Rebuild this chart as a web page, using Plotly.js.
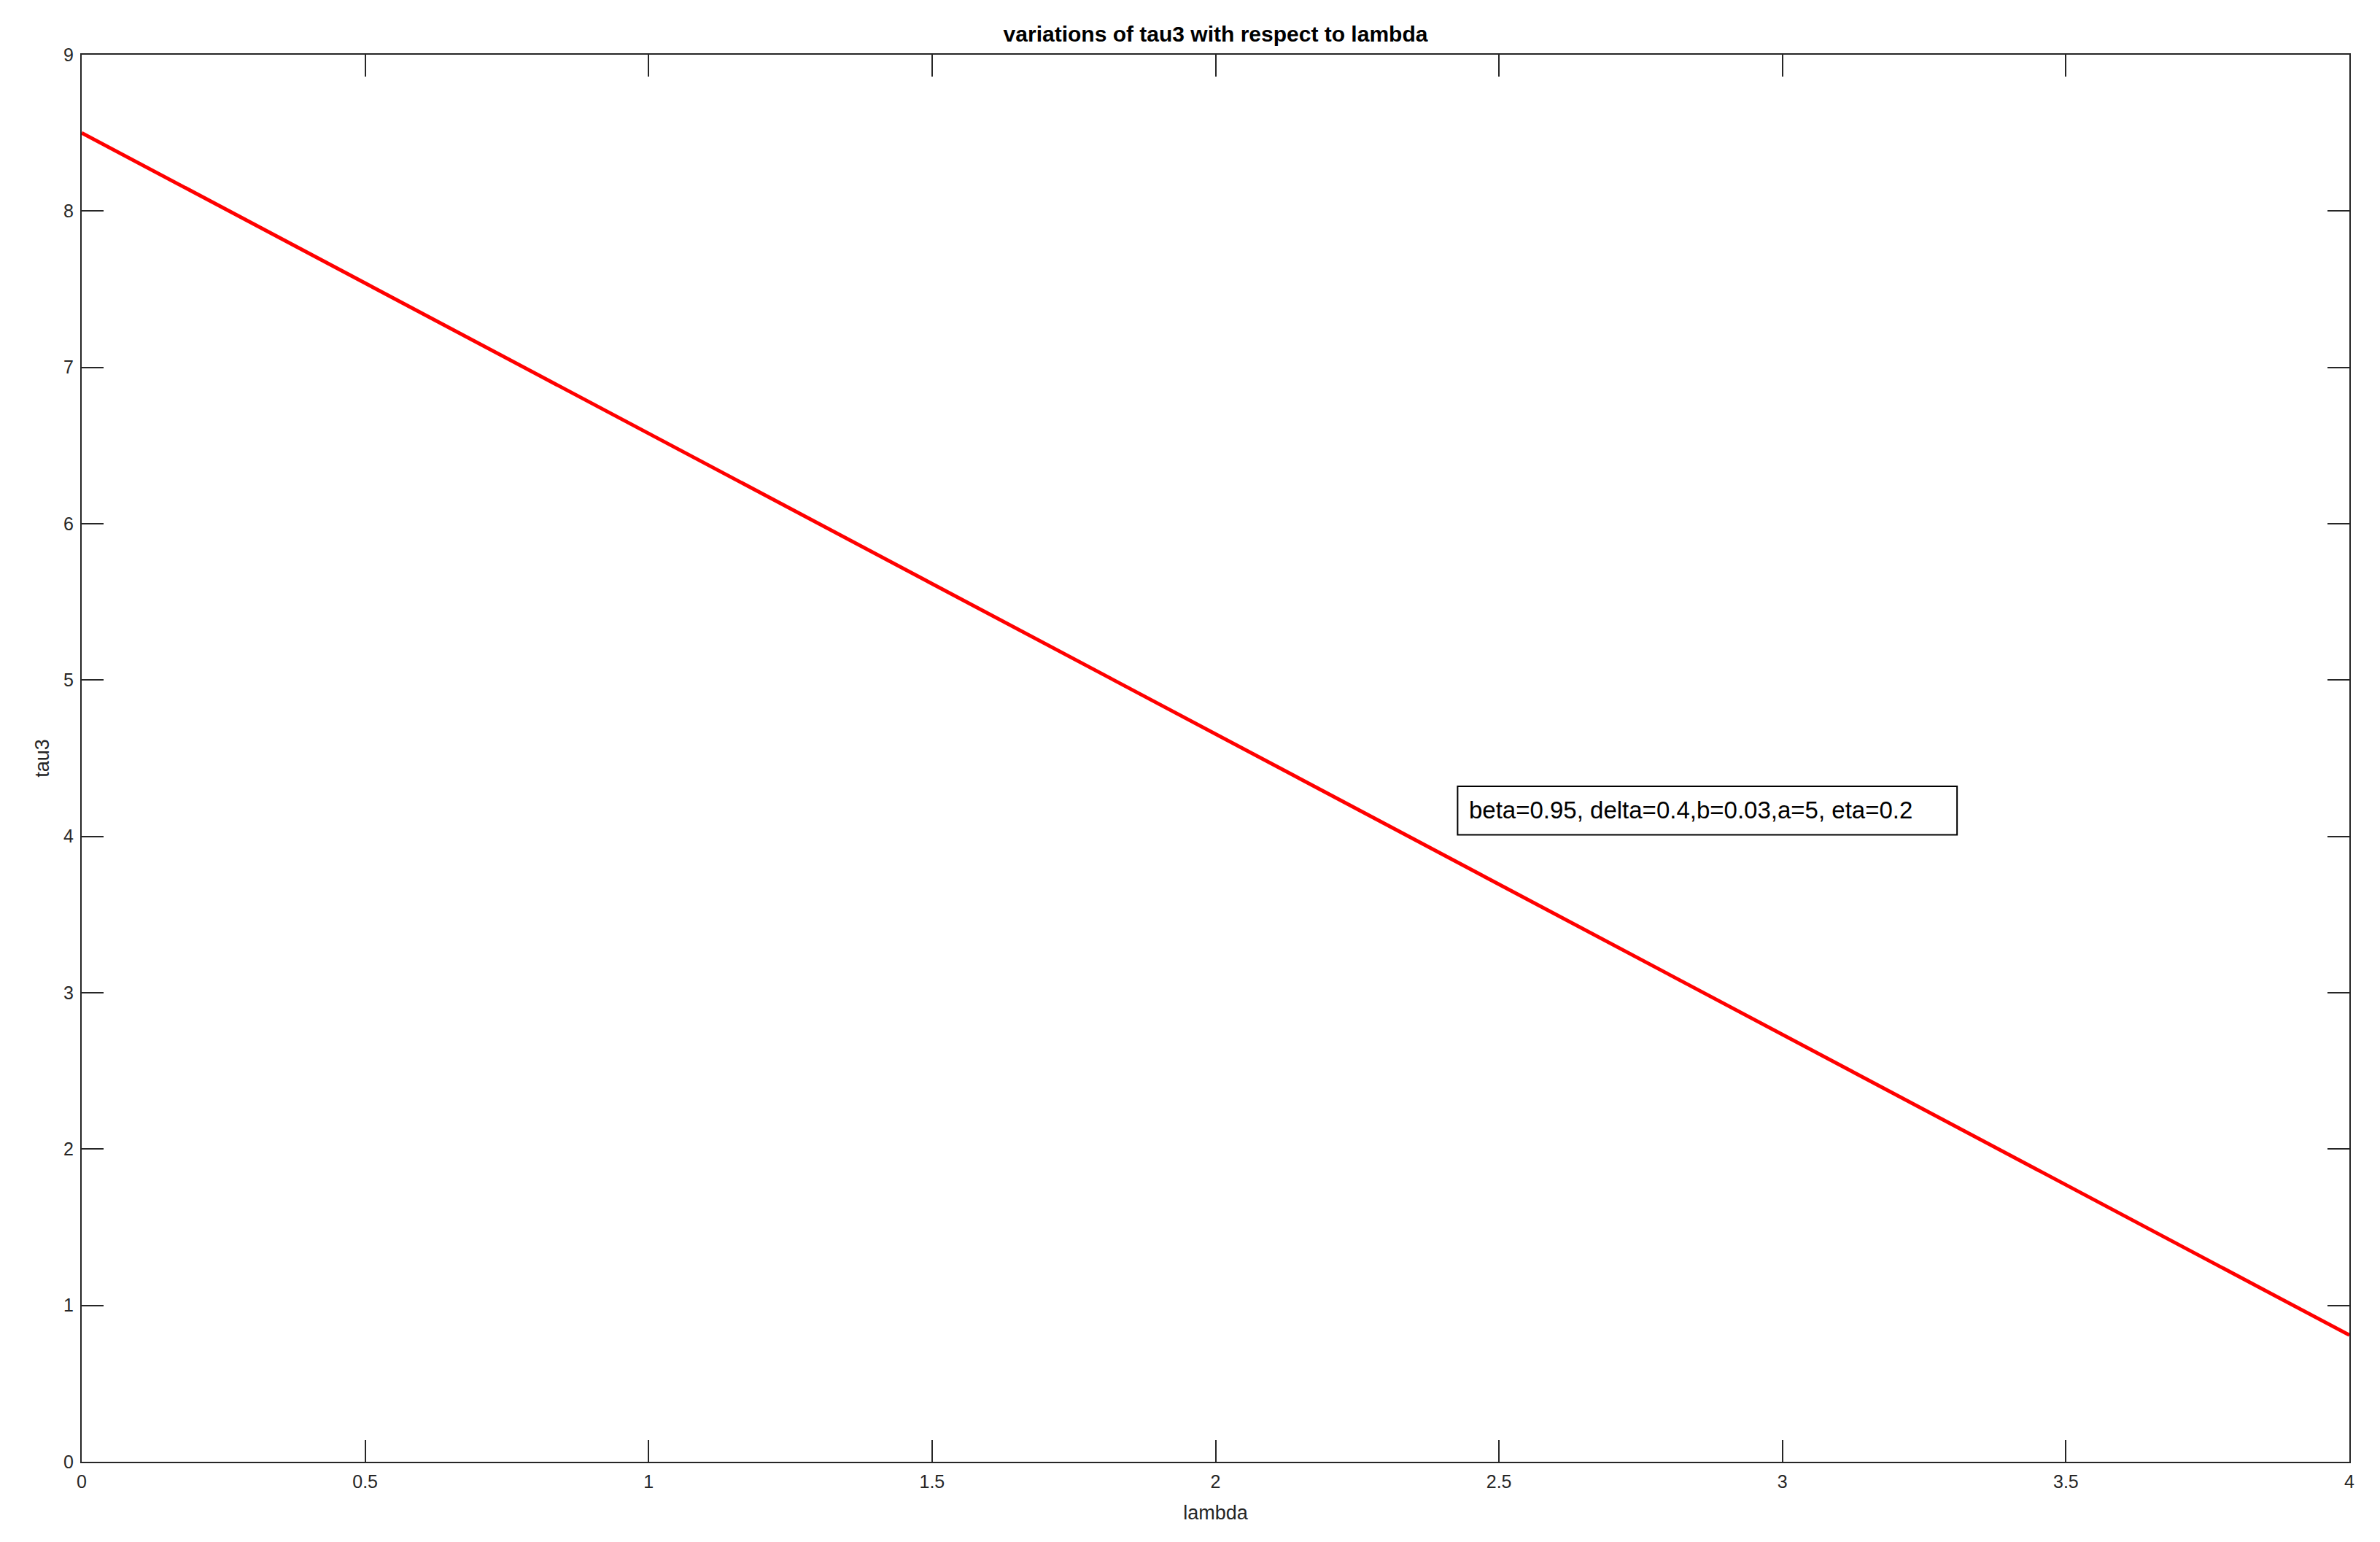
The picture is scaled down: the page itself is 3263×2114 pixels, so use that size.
<!DOCTYPE html>
<html>
<head>
<meta charset="utf-8">
<script src="https://cdn.plot.ly/plotly-3.0.1.min.js"></script>
<style>html,body{margin:0;padding:0;background:#fff;}#chart{width:3263px;height:2114px;}</style>
</head>
<body>
<div id="chart"></div>
<script>
// Data
const lambdaVals = [0, 2, 4];
const tau3Vals = [8.5, 4.655, 0.81];
const xTicks = [0, 0.5, 1, 1.5, 2, 2.5, 3, 3.5, 4];
const xTickText = ['0', '0.5', '1', '1.5', '2', '2.5', '3', '3.5', '4'];
const yTicks = [0, 1, 2, 3, 4, 5, 6, 7, 8, 9];
const yTickText = ['0', '1', '2', '3', '4', '5', '6', '7', '8', '9'];
const chartTitle = 'variations of tau3 with respect to lambda';
const xLabel = 'lambda';
const yLabel = 'tau3';
const noteText = 'beta=0.95, delta=0.4,b=0.03,a=5, eta=0.2';

const axisColor = '#262626';
const font = 'Liberation Sans, Arial, Helvetica, sans-serif';

const trace = {
  x: lambdaVals, y: tau3Vals, type: 'scatter', mode: 'lines',
  line: {color: '#ff0000', width: 5}, hoverinfo: 'skip'
};

const commonAxis = {
  showgrid: false, zeroline: false, showline: true, linecolor: axisColor, linewidth: 2,
  mirror: 'ticks', ticks: 'inside', ticklen: 30, tickwidth: 2, tickcolor: axisColor,
  tickfont: {family: font, size: 25, color: axisColor}
};

const layout = {
  width: 3263, height: 2114,
  margin: {l: 112, r: 42, t: 75, b: 110},
  paper_bgcolor: '#fff', plot_bgcolor: '#fff',
  showlegend: false,
  title: {text: '<b>' + chartTitle + '</b>', font: {family: font, size: 30, color: '#000'},
          x: 0.5, xref: 'paper', y: 1 - 46 / 2114, yanchor: 'middle'},
  xaxis: Object.assign({}, commonAxis, {
    range: [0, 4], tickmode: 'array', tickvals: xTicks, ticktext: xTickText,
    ticklabelstandoff: 4,
    title: {text: xLabel, font: {family: font, size: 27, color: axisColor}, standoff: 20}
  }),
  yaxis: Object.assign({}, commonAxis, {
    range: [0, 9], tickmode: 'array', tickvals: yTicks, ticktext: yTickText,
    ticklabelstandoff: 4,
    title: {text: yLabel, font: {family: font, size: 27, color: axisColor}, standoff: 12}
  }),
  shapes: [{
    type: 'rect', xref: 'x', yref: 'y', x0: 2.427, x1: 3.308, y0: 4.01, y1: 4.32,
    line: {color: '#000', width: 2}, fillcolor: '#fff', layer: 'below'
  }],
  annotations: [{
    text: noteText, xref: 'x', yref: 'y', x: 2.444, y: 4.17,
    xanchor: 'left', yanchor: 'middle', showarrow: false,
    font: {family: font, size: 33, color: '#000'}
  }]
};

Plotly.newPlot('chart', [trace], layout, {staticPlot: true, displayModeBar: false});
</script>
</body>
</html>
